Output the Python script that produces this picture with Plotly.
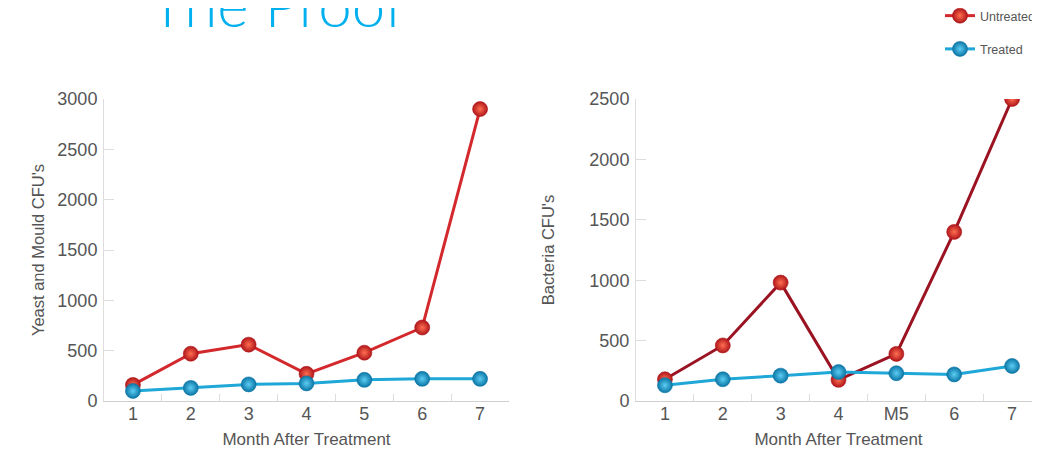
import plotly.graph_objects as go

months_left = ["1", "2", "3", "4", "5", "6", "7"]
months_right = ["1", "2", "3", "4", "M5", "6", "7"]

yeast_untreated = [160, 470, 560, 270, 480, 730, 2900]
yeast_treated = [100, 130, 165, 175, 210, 220, 220]

bact_untreated = [180, 460, 980, 175, 390, 1400, 2500]
bact_treated = [130, 180, 210, 240, 230, 220, 290]

yeast_ticks = [0, 500, 1000, 1500, 2000, 2500, 3000]
bact_ticks = [0, 500, 1000, 1500, 2000, 2500]

RED = "#d3282c"
RED_DARK = "#9b1322"
BLUE = "#1fa7d8"

W, H = 1040, 454
OFF = 8  # page body margin offset
FONT = "Liberation Sans"
GREY = "#555555"


def marker(edge, center):
    return dict(size=15, color=edge, gradient=dict(type="radial", color=center),
                line=dict(width=0.6, color=edge))


RED_M = marker("#b0161b", "#ff6f50")
BLUE_M = marker("#0b76a6", "#5ccdf3")

fig = go.Figure()
fig.add_trace(go.Scatter(x=months_left, y=yeast_untreated, mode="lines+markers",
                         name="Untreated", legendgroup="u",
                         line=dict(color=RED, width=3), marker=RED_M,
                         xaxis="x", yaxis="y"))
fig.add_trace(go.Scatter(x=months_left, y=yeast_treated, mode="lines+markers",
                         name="Treated", legendgroup="t",
                         line=dict(color=BLUE, width=3), marker=BLUE_M,
                         xaxis="x", yaxis="y"))
fig.add_trace(go.Scatter(x=months_right, y=bact_untreated, mode="lines+markers",
                         name="Untreated", legendgroup="u", showlegend=False,
                         line=dict(color=RED_DARK, width=3), marker=RED_M,
                         xaxis="x2", yaxis="y2"))
fig.add_trace(go.Scatter(x=months_right, y=bact_treated, mode="lines+markers",
                         name="Treated", legendgroup="t", showlegend=False,
                         line=dict(color=BLUE, width=3), marker=BLUE_M,
                         xaxis="x2", yaxis="y2"))

ydom = [(H - (401 - OFF)) / H, (H - (99 - OFF)) / H]

xcommon = dict(type="category", range=[-0.5, 6.5], showgrid=False, zeroline=False,
               showline=True, linecolor="#cfcfcf", linewidth=1,
               ticks="inside", tickson="boundaries", ticklen=7, tickcolor="#dddddd",
               tickfont=dict(family=FONT, size=18, color=GREY), ticklabelstandoff=-4,
               title=dict(text="Month After Treatment", standoff=10,
                          font=dict(family=FONT, size=17, color=GREY)))
ycommon = dict(showgrid=False, zeroline=False, showline=True, linecolor="#dddddd",
               linewidth=1, ticks="inside", ticklen=10, tickcolor="#dddddd",
               tickfont=dict(family=FONT, size=18, color=GREY), ticklabelstandoff=2)

fig.update_layout(
    width=W, height=H,
    margin=dict(l=0, r=0, t=0, b=0, autoexpand=False),
    paper_bgcolor="white", plot_bgcolor="white",
    xaxis=dict(xcommon, domain=[(104 - OFF) / W, (509 - OFF) / W], anchor="y",
               categoryorder="array", categoryarray=months_left),
    yaxis=dict(ycommon, domain=ydom, anchor="x", range=[0, 3000],
               tickvals=yeast_ticks,
               title=dict(text="Yeast and Mould CFU's", standoff=8,
                          font=dict(family=FONT, size=16.5, color=GREY))),
    xaxis2=dict(xcommon, domain=[(636 - OFF) / W, (1041 - OFF) / W], anchor="y2",
                categoryorder="array", categoryarray=months_right),
    yaxis2=dict(ycommon, domain=ydom, anchor="x2", range=[0, 2500],
                tickvals=bact_ticks,
                title=dict(text="Bacteria CFU's", standoff=30,
                           font=dict(family=FONT, size=16.5, color=GREY))),
    showlegend=True,
    legend=dict(x=(940 - OFF) / W, xanchor="left", y=1 + 7 / H, yanchor="top",
                font=dict(family=FONT, size=12.5, color=GREY),
                tracegroupgap=14, bgcolor="rgba(0,0,0,0)", borderwidth=0),
    annotations=[dict(text="The Proof", xref="paper", yref="paper",
                      x=(277 - OFF) / W, y=1 - 34 / H, xanchor="center", yanchor="bottom",
                      showarrow=False,
                      font=dict(family="Lato", weight=300, size=60, color="#00b0ef"))],
)

fig.write_html("out.html")
